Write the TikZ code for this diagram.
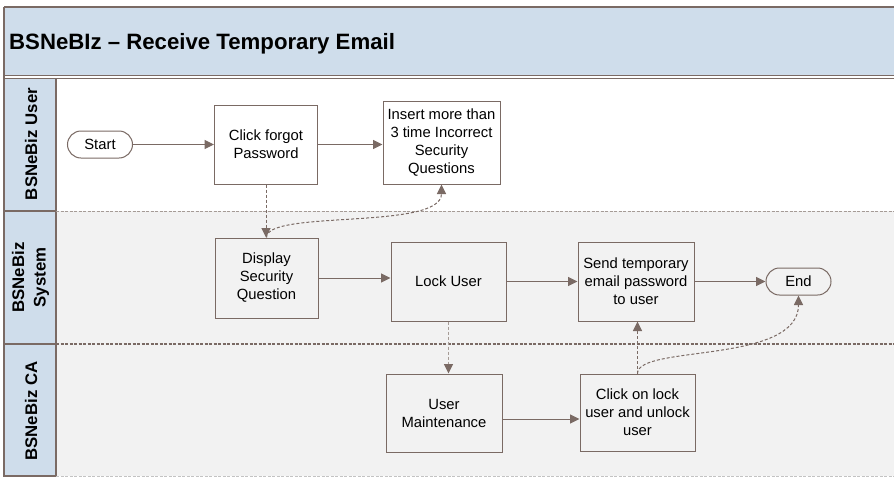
\documentclass[tikz,border=0pt]{standalone}
\usepackage{fontspec}
\setmainfont{Liberation Sans}
\usetikzlibrary{arrows.meta}
\definecolor{titlefill}{RGB}{207,221,235}
\definecolor{lanegray}{RGB}{242,242,242}
\definecolor{linec}{RGB}{122,106,100}
\definecolor{lightdash}{RGB}{165,155,150}
\definecolor{bottomdash}{RGB}{195,195,195}
\begin{document}
\begin{tikzpicture}[x=1pt,y=-1pt,
  bodyfont/.style={font=\fontsize{14.8}{18}\selectfont},
  proc/.style={draw=linec, line width=1pt, align=center, bodyfont, inner sep=0pt},
  term/.style={draw=linec, line width=1pt, rounded corners=13.5pt, bodyfont, inner sep=0pt, minimum width=65pt, minimum height=27pt},
  flow/.style={draw=linec, line width=1pt, -{Triangle[length=9.5pt,width=9pt,color=linec]}},
  dflow/.style={flow, dash pattern=on 3pt off 2pt},
  lanelbl/.style={rotate=90, font=\bfseries\fontsize{16.8}{21.5}\selectfont, align=center, inner sep=0pt},
  frame/.style={draw=linec, line width=1.1pt}
]
\useasboundingbox (0,0) rectangle (894,477);
% backgrounds
\fill[white] (0,0) rectangle (894,477);
\fill[titlefill] (4,7) rectangle (894,76);
\fill[lanegray] (56,211) rectangle (894,476);
\fill[titlefill] (4,78) rectangle (56,476);
% frame lines
\draw[frame] (4,7) -- (894,7);
\draw[frame] (4,7) -- (4,477);
\draw[frame] (4,75.5) -- (894,75.5);
\draw[frame] (4,78.2) -- (894,78.2);
\draw[frame] (56,78) -- (56,476);
\draw[frame] (4,211) -- (56,211);
\draw[draw=lightdash, line width=1pt, dash pattern=on 3pt off 1.5pt] (56,211) -- (894,211);
\draw[frame] (4,344) -- (56,344);
\draw[draw=linec, line width=1.1pt, dash pattern=on 3pt off 1.5pt] (56,344) -- (894,344);
\draw[frame] (4,476) -- (56,476);
\draw[draw=bottomdash, line width=1pt, dash pattern=on 3pt off 1.5pt] (56,476) -- (894,476);
% title and lane labels
\node[anchor=base west, inner sep=0pt, font=\bfseries\fontsize{22.2}{27}\selectfont] (title) at (9,49.3) {BSNeBIz – Receive Temporary Email};
\node[lanelbl] (luser) at (31,144) {BSNeBiz User};
\node[lanelbl] (lsys) at (30.5,277.5) {BSNeBiz\\System};
\node[lanelbl] (lca) at (31,411) {BSNeBiz CA};
% nodes
\node[term] (start) at (100,144.5) {Start};
\node[proc, minimum width=103pt, minimum height=79pt] (forgot) at (266,144.5) {Click forgot\\Password};
\node[proc, minimum width=117pt, minimum height=83pt] (insert) at (441.5,142.5) {Insert more than\\3 time Incorrect\\Security\\Questions};
\node[proc, minimum width=103pt, minimum height=80pt] (display) at (266.5,278) {Display\\Security\\Question};
\node[proc, minimum width=115pt, minimum height=79pt] (lock) at (448.5,281.5) {Lock User};
\node[proc, minimum width=116pt, minimum height=79pt] (send) at (636,281.5) {Send temporary\\email password\\to user};
\node[term] (endn) at (798.5,281.5) {End};
\node[proc, minimum width=116pt, minimum height=78pt] (maint) at (444,413) {User\\Maintenance};
\node[proc, minimum width=115pt, minimum height=77pt] (unlock) at (637.5,412.5) {Click on lock\\user and unlock\\user};
% connectors
\draw[flow] (start) -- (forgot);
\draw[flow] (forgot.east) -- (forgot.east -| insert.west);
\draw[dflow] (forgot.south) -- (forgot.south |- display.north);
\draw[dflow] (display.north) .. controls +(0,-28) and +(0,46) .. (insert.south);
\draw[flow] (display.east) -- (display.east -| lock.west);
\draw[flow] (lock) -- (send);
\draw[flow] (send) -- (endn);
\draw[dflow, draw=lightdash] (lock.south) -- (lock.south |- maint.north);
\coordinate (m1) at ([yshift=-6pt]maint.east);
\draw[flow] (m1) -- (m1 -| unlock.west);
\draw[dflow] (unlock.north) -- (unlock.north |- send.south);
\draw[dflow] (unlock.north) .. controls +(0,-29) and +(0,69) .. (endn.south);
\end{tikzpicture}
\end{document}
